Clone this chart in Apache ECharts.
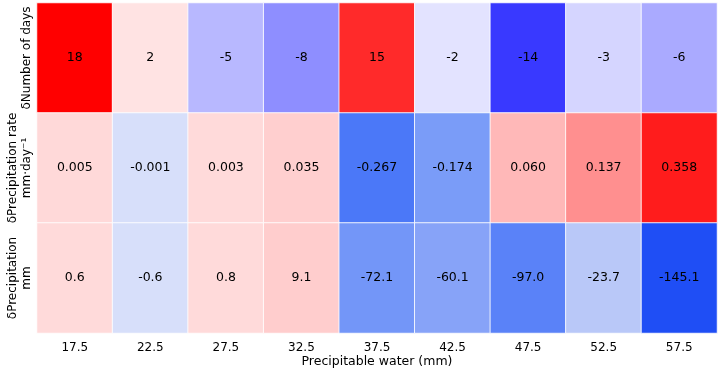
<!DOCTYPE html>
<html>
<head>
<meta charset="utf-8">
<script src="https://cdn.jsdelivr.net/npm/echarts@6/dist/echarts.min.js"></script>
<style>html,body{margin:0;padding:0;background:#fff}#c{width:720px;height:369px}</style>
</head>
<body>
<div id="c"></div>
<script>
var xLabels = ['17.5','22.5','27.5','32.5','37.5','42.5','47.5','52.5','57.5'];
var rowLabels = ['\u03b4Number of days', '\u03b4Precipitation rate\nmm\u00b7day\u207b\u00b9', '\u03b4Precipitation\nmm'];
var numDays = [18, 2, -5, -8, 15, -2, -14, -3, -6];
var precipRate = [0.005, -0.001, 0.003, 0.035, -0.267, -0.174, 0.060, 0.137, 0.358];
var precipTotal = [0.6, -0.6, 0.8, 9.1, -72.1, -60.1, -97.0, -23.7, -145.1];
var xTitle = 'Precipitable water (mm)';

// colour scales (style)
function bwr(v, m) {
  var t = Math.max(-1, Math.min(1, v / m));
  if (t >= 0) { var g = Math.round(255 * (1 - t)); return [255, g, g]; }
  var b = Math.round(255 * (1 + t)); return [b, b, 255];
}
function stopsColor(v, stops) {
  if (v <= stops[0][0]) return stops[0][1];
  for (var i = 1; i < stops.length; i++) {
    if (v <= stops[i][0]) {
      var a = stops[i-1], b = stops[i];
      var f = (v - a[0]) / (b[0] - a[0]);
      return [0,1,2].map(function(k){ return Math.round(a[1][k] + f * (b[1][k] - a[1][k])); });
    }
  }
  return stops[stops.length-1][1];
}
var rateStops = [[-0.30,[50,95,250]],[-0.267,[75,120,248]],[-0.174,[122,156,248]],[-0.001,[215,223,250]],[0.003,[255,218,218]],[0.035,[255,207,207]],[0.06,[255,184,184]],[0.137,[255,143,143]],[0.358,[255,28,28]]];
var totStops = [[-145.1,[31,78,245]],[-97,[90,130,248]],[-72.1,[115,150,248]],[-60.1,[135,163,248]],[-23.7,[185,200,248]],[-0.6,[215,223,250]],[0.6,[255,218,218]],[0.8,[255,218,218]],[9.1,[255,205,205]]];
function rgb(c){ return 'rgb(' + c.join(',') + ')'; }

var rows = [
  {vals: numDays, col: function(v){ return bwr(v, 18); }, fmt: function(v){ return String(v); }},
  {vals: precipRate, col: function(v){ return stopsColor(v, rateStops); }, fmt: function(v){ return v.toFixed(3); }},
  {vals: precipTotal, col: function(v){ return stopsColor(v, totStops); }, fmt: function(v){ return v.toFixed(1); }}
];

var data = [];
rows.forEach(function(r, ri){
  r.vals.forEach(function(v, xi){
    data.push({value: [xi, ri, v], itemStyle: {color: rgb(r.col(v))},
      label: {formatter: r.fmt(v)}});
  });
});

var chart = echarts.init(document.getElementById('c'));
chart.setOption({
  animation: false,
  textStyle: {fontFamily: 'DejaVu Sans'},
  grid: {left: 37, right: 3, top: 3, bottom: 36, containLabel: false, outerBoundsMode: 'none'},
  xAxis: {
    type: 'category', data: xLabels,
    axisLine: {show: false}, axisTick: {show: false}, splitLine: {show: false},
    axisLabel: {fontSize: 12, color: '#000', margin: 9, interval: 0, fontFamily: 'DejaVu Sans'},
    name: xTitle, nameLocation: 'middle', nameGap: 22, nameMoveOverlap: false,
    nameTextStyle: {fontSize: 12.5, color: '#000', fontFamily: 'DejaVu Sans'}
  },
  yAxis: {
    type: 'category', data: rowLabels, inverse: true,
    axisLine: {show: false}, axisTick: {show: false}, splitLine: {show: false},
    axisLabel: {rotate: 90, fontSize: 12, color: '#000', margin: 3, lineHeight: 14, interval: 0,
      hideOverlap: false, fontFamily: 'DejaVu Sans'}
  },
  series: [{
    type: 'heatmap',
    data: data,
    itemStyle: {borderColor: 'rgba(255,255,255,0.85)', borderWidth: 1},
    label: {show: true, fontSize: 12.5, color: '#000', fontFamily: 'DejaVu Sans'},
    emphasis: {disabled: true}
  }]
});
</script>
</body>
</html>
